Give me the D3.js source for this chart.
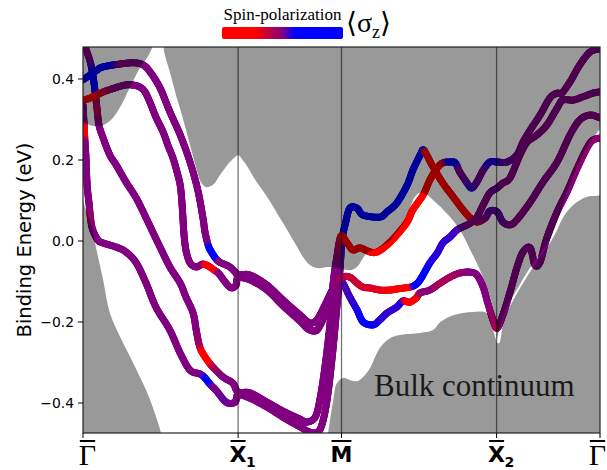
<!DOCTYPE html>
<html>
<head>
<meta charset="utf-8">
<script src="https://cdn.jsdelivr.net/npm/d3@7"></script>
<style>
  body { margin: 0; background: #fff; }
  svg { display: block; }
</style>
</head>
<body>
<svg id="chart" width="607" height="470"></svg>
<script>
// k path: Γ - X1 - M - X2 - Γ, energies in eV, spin <σz> in [-1, 1]
const xTicks = [0, 0.3, 0.5, 0.8, 1.0];
const xTickMain = ['Γ', 'X', 'M', 'X', 'Γ'];
const xTickSub = ['', '1', '', '2', ''];
const yTicks = [-0.4, -0.2, 0.0, 0.2, 0.4];

// [k, E, spin]
const bandA = [
  [0, 0.336, 0], [0.002, 0.29, 0], [0.003, 0.265, -0.8], [0.004, 0.24, 0], [0.006, 0.2, 0], [0.008, 0.138, 0],
  [0.012, 0.089, 0], [0.015, 0.052, -0.1], [0.019, 0.027, 0], [0.029, 0.002, 0], [0.039, -0.005, 0],
  [0.064, -0.015, 0], [0.083, -0.027, 0], [0.103, -0.054, 0], [0.122, -0.104, 0], [0.141, -0.163, 0],
  [0.168, -0.22, 0], [0.188, -0.277, 0], [0.207, -0.319, 0], [0.226, -0.328, 0], [0.236, -0.338, 0.1],
  [0.242, -0.348, 0.9], [0.249, -0.358, 0.1], [0.257, -0.368, 0], [0.277, -0.398, 0.05], [0.294, -0.398, 0],
  [0.3, -0.38, 0],
  [0.323, -0.388, 0], [0.356, -0.41, 0], [0.387, -0.435, 0], [0.42, -0.459, 0], [0.439, -0.472, 0],
  [0.453, -0.472, 0], [0.462, -0.454, 0], [0.472, -0.393, 0], [0.482, -0.286, 0], [0.491, -0.163, 0],
  [0.497, -0.072, 0], [0.501, 0.002, 0.15], [0.507, 0.04, 0.5],
  [0.516, 0.081, 0.9], [0.53, 0.081, 0.9], [0.542, 0.064, 0.9], [0.574, 0.059, 0.9], [0.588, 0.072, 0.9],
  [0.607, 0.094, 0.9], [0.627, 0.138, 0.9], [0.638, 0.175, 0.9], [0.652, 0.212, 0.9], [0.658, 0.225, 0.6],
  [0.665, 0.212, -0.9], [0.677, 0.183, -0.9], [0.696, 0.143, -0.9], [0.716, 0.109, -0.9], [0.735, 0.077, -0.9],
  [0.749, 0.057, -0.7], [0.762, 0.047, -0.3], [0.778, 0.057, 0], [0.787, 0.074, 0.05], [0.801, 0.072, 0.05],
  [0.812, 0.047, 0.05], [0.826, 0.04, 0], [0.839, 0.052, 0], [0.865, 0.096, 0], [0.89, 0.146, 0],
  [0.917, 0.195, 0], [0.942, 0.262, 0], [0.961, 0.299, 0], [0.981, 0.311, 0], [1.0, 0.304, 0]
];

const bandB = [
  [-0.002, 0.496, 0], [0.006, 0.472, 0], [0.014, 0.442, 0], [0.019, 0.41, 0.2], [0.023, 0.373, 0.3],
  [0.027, 0.328, -0.2], [0.031, 0.286, 0], [0.039, 0.254, 0], [0.052, 0.212, 0], [0.064, 0.188, 0],
  [0.083, 0.146, 0], [0.103, 0.106, 0], [0.122, 0.057, 0], [0.135, 0.022, 0], [0.149, -0.015, 0],
  [0.168, -0.064, 0], [0.188, -0.104, 0], [0.199, -0.138, 0], [0.213, -0.178, 0], [0.219, -0.22, 0],
  [0.226, -0.262, -0.1], [0.236, -0.286, -0.9], [0.245, -0.302, -0.9], [0.251, -0.311, -0.2], [0.271, -0.336, 0],
  [0.29, -0.351, 0], [0.3, -0.373, 0],
  [0.323, -0.375, 0], [0.356, -0.398, 0], [0.387, -0.42, 0], [0.42, -0.44, 0], [0.433, -0.447, 0],
  [0.449, -0.435, 0], [0.458, -0.393, 0], [0.468, -0.311, 0], [0.478, -0.202, 0], [0.484, -0.104, 0],
  [0.491, -0.04, 0], [0.499, 0.012, -0.3],
  [0.511, -0.005, -0.7], [0.522, -0.022, -0.7], [0.536, -0.017, -0.7], [0.555, -0.027, -0.7], [0.569, -0.027, -0.7],
  [0.588, -0.01, -0.6], [0.607, 0.015, -0.5], [0.627, 0.047, -0.5], [0.638, 0.077, -0.5], [0.658, 0.114, -0.8],
  [0.671, 0.151, -0.9], [0.685, 0.18, -0.9], [0.696, 0.193, -0.4], [0.71, 0.195, 0.3], [0.72, 0.193, 0.3],
  [0.729, 0.17, 0], [0.743, 0.143, 0.05], [0.752, 0.131, 0.15], [0.762, 0.146, 0.05], [0.774, 0.175, 0],
  [0.787, 0.195, 0.15], [0.801, 0.195, 0.15],
  [0.82, 0.195, 0.05], [0.839, 0.212, 0.02], [0.851, 0.244, 0], [0.865, 0.274, 0], [0.884, 0.311, 0],
  [0.903, 0.353, 0], [0.917, 0.365, 0], [0.926, 0.365, 0], [0.942, 0.393, 0], [0.961, 0.435, 0],
  [0.981, 0.467, 0], [1.0, 0.474, 0]
];

const bandC = [
  [0, 0.348, -0.5], [0.014, 0.353, -0.6], [0.039, 0.368, -0.3], [0.062, 0.378, 0], [0.081, 0.385, 0],
  [0.097, 0.385, 0], [0.11, 0.38, 0], [0.12, 0.368, 0], [0.13, 0.341, 0], [0.141, 0.306, 0],
  [0.155, 0.269, 0], [0.164, 0.237, 0], [0.174, 0.205, 0], [0.182, 0.17, 0], [0.188, 0.138, 0],
  [0.191, 0.101, 0], [0.193, 0.064, 0], [0.195, 0.022, 0], [0.199, -0.022, 0], [0.207, -0.054, 0],
  [0.219, -0.064, 0], [0.232, -0.057, 0], [0.244, -0.063, -0.9], [0.255, -0.073, -0.9], [0.263, -0.081, 0],
  [0.284, -0.114, 0], [0.296, -0.109, 0], [0.3, -0.091, 0],
  [0.323, -0.096, 0], [0.356, -0.121, 0], [0.387, -0.16, 0], [0.42, -0.198, 0], [0.435, -0.217, 0],
  [0.449, -0.222, 0], [0.458, -0.21, 0], [0.472, -0.17, 0], [0.484, -0.131, 0], [0.493, -0.109, 0],
  [0.501, -0.101, 0.05],
  [0.516, -0.138, 0.1], [0.53, -0.17, 0.15], [0.542, -0.2, 0.2], [0.561, -0.207, 0.2], [0.574, -0.195, 0.15],
  [0.588, -0.178, 0.12], [0.607, -0.163, 0.12], [0.619, -0.148, 0.15], [0.632, -0.151, -0.8], [0.645, -0.14, -0.8],
  [0.652, -0.128, -0.1], [0.671, -0.121, 0], [0.691, -0.104, -0.15], [0.71, -0.089, -0.15], [0.729, -0.079, -0.1],
  [0.749, -0.077, 0], [0.762, -0.084, 0], [0.774, -0.114, 0], [0.783, -0.153, 0], [0.793, -0.195, -0.1],
  [0.801, -0.215, -0.15],
  [0.812, -0.183, 0], [0.826, -0.126, 0], [0.839, -0.067, 0], [0.851, -0.027, 0], [0.865, -0.017, 0],
  [0.874, -0.059, 0], [0.884, -0.052, 0], [0.897, 0.007, 0], [0.917, 0.072, 0], [0.936, 0.121, 0],
  [0.956, 0.18, -0.05], [0.975, 0.23, -0.05], [0.986, 0.249, -0.05], [1.0, 0.254, -0.05]
];

const bandD = [
  [0, 0.398, 0.3], [0.014, 0.41, 0.8], [0.027, 0.422, 0.9], [0.039, 0.43, 0.5], [0.072, 0.437, 0],
  [0.097, 0.44, 0], [0.116, 0.435, 0], [0.13, 0.417, 0], [0.149, 0.378, 0], [0.168, 0.319, 0],
  [0.188, 0.262, 0], [0.207, 0.195, 0], [0.222, 0.126, 0], [0.232, 0.057, 0], [0.236, 0.022, 0],
  [0.242, -0.01, 0], [0.247, -0.024, 0.9], [0.256, -0.042, 0.9], [0.262, -0.05, 0], [0.267, -0.054, 0],
  [0.284, -0.064, 0], [0.296, -0.079, 0], [0.3, -0.084, 0],
  [0.323, -0.084, 0], [0.356, -0.109, 0], [0.387, -0.146, 0], [0.42, -0.183, 0], [0.435, -0.2, 0],
  [0.445, -0.202, 0], [0.455, -0.19, 0], [0.468, -0.158, 0], [0.482, -0.121, 0], [0.491, -0.101, -0.05],
  [0.501, -0.089, -0.1],
  [0.516, -0.089, -0.25], [0.53, -0.104, -0.25], [0.542, -0.114, -0.3], [0.555, -0.116, -0.3], [0.574, -0.121, -0.35],
  [0.594, -0.121, -0.4], [0.61, -0.118, -0.9], [0.632, -0.114, -0.9], [0.642, -0.109, 0.4], [0.652, -0.096, 0.4],
  [0.671, -0.054, 0.15], [0.685, -0.03, 0.15], [0.696, -0.005, 0.12], [0.71, 0.01, 0.12], [0.723, 0.027, 0.1],
  [0.735, 0.035, 0.05], [0.749, 0.044, 0], [0.762, 0.059, 0], [0.774, 0.089, 0], [0.787, 0.119, 0],
  [0.801, 0.131, 0.05],
  [0.812, 0.143, 0], [0.826, 0.156, 0], [0.845, 0.212, 0], [0.859, 0.244, 0], [0.878, 0.262, 0],
  [0.897, 0.286, 0], [0.917, 0.328, 0], [0.928, 0.348, 0], [0.948, 0.348, 0], [0.967, 0.356, 0],
  [0.986, 0.365, 0], [1.0, 0.368, 0]
];

// projected bulk gap (white), upper and lower edge, [k, E]
const gapTop = [
  [0, 0.294], [0.014, 0.286], [0.033, 0.284], [0.052, 0.296], [0.072, 0.331], [0.091, 0.38],
  [0.11, 0.427], [0.126, 0.457], [0.135, 0.481], [0.143, 0.509], [0.153, 0.509], [0.157, 0.467],
  [0.168, 0.417], [0.18, 0.36], [0.193, 0.304], [0.207, 0.237], [0.219, 0.18], [0.228, 0.146],
  [0.238, 0.133], [0.251, 0.138], [0.265, 0.163], [0.284, 0.195], [0.294, 0.207], [0.3, 0.212],
  [0.313, 0.193], [0.333, 0.151], [0.356, 0.109], [0.375, 0.069], [0.395, 0.027], [0.412, -0.01],
  [0.426, -0.04], [0.439, -0.059], [0.455, -0.067], [0.472, -0.064], [0.497, -0.067], [0.516, -0.072],
  [0.53, -0.064], [0.549, -0.03], [0.574, -0.015], [0.594, 0.002], [0.609, 0.027], [0.619, 0.044],
  [0.632, 0.081], [0.642, 0.109], [0.652, 0.119], [0.665, 0.114], [0.677, 0.101], [0.694, 0.081],
  [0.71, 0.059], [0.729, 0.027], [0.749, -0.022], [0.768, -0.072], [0.783, -0.121], [0.793, -0.165],
  [0.799, -0.215], [0.801, -0.252]
];
const gapBottom = [
  [0, 0.101], [0.006, 0.077], [0.014, 0.047], [0.019, 0.027], [0.025, -0.015], [0.039, -0.096],
  [0.052, -0.178], [0.072, -0.237], [0.097, -0.301], [0.122, -0.368], [0.139, -0.425], [0.151, -0.474],
  [0.159, -0.516], [0.458, -0.541], [0.47, -0.504], [0.474, -0.474], [0.484, -0.393], [0.491, -0.351],
  [0.503, -0.338], [0.516, -0.343], [0.53, -0.346], [0.54, -0.338], [0.555, -0.314], [0.574, -0.264],
  [0.594, -0.24], [0.613, -0.232], [0.652, -0.227], [0.677, -0.22], [0.691, -0.2], [0.716, -0.183],
  [0.754, -0.175], [0.781, -0.178], [0.791, -0.212], [0.801, -0.252]
];
// thin gap right of X2 widening towards Γ
const gapRight = [
  [0.801, -0.252], [0.81, -0.2], [0.822, -0.158], [0.839, -0.121], [0.859, -0.077], [0.884, -0.032],
  [0.903, 0.002], [0.909, 0.02], [0.923, 0.069], [0.936, 0.121], [0.956, 0.183], [0.975, 0.232],
  [0.986, 0.254], [1.01, 0.286], [1.01, 0.119], [0.975, 0.109], [0.948, 0.089], [0.928, 0.057],
  [0.917, 0.027], [0.903, -0.005], [0.88, -0.047], [0.855, -0.096], [0.832, -0.146], [0.814, -0.195],
  [0.805, -0.252]
];

const spinDomain = [-1, -0.45, 0, 0.2, 1];
const spinColors = ['#ff0000', '#ff0000', '#800080', '#0000ff', '#0000ff'];

const svg = d3.select('#chart');
const plotL = 83, plotR = 600, plotT = 47, plotB = 433;

const x = d3.scaleLinear().domain([0, 1]).range([plotL, plotR]);
const y = d3.scaleLinear().domain([-0.474, 0.479]).range([plotB, plotT]);
const color = d3.scaleLinear().domain(spinDomain).range(spinColors).clamp(true);

const defs = svg.append('defs');
defs.append('clipPath').attr('id', 'plotClip')
  .append('rect').attr('x', plotL).attr('y', plotT).attr('width', plotR - plotL).attr('height', plotB - plotT);

const plot = svg.append('g').attr('clip-path', 'url(#plotClip)');

// smooth the band through its points (Catmull-Rom), spin interpolated linearly
const sampleBand = (band) => {
  const P = band.map((d) => [x(d[0]), y(d[1]), d[2]]);
  const out = [];
  for (let i = 0; i < P.length - 1; i++) {
    const p0 = P[Math.max(i - 1, 0)], p1 = P[i], p2 = P[i + 1], p3 = P[Math.min(i + 2, P.length - 1)];
    const n = Math.max(2, Math.ceil(Math.hypot(p2[0] - p1[0], p2[1] - p1[1]) / 1.5));
    for (let j = 0; j < n; j++) {
      const t = j / n, t2 = t * t, t3 = t2 * t;
      const cr = (a, b, c, d) => 0.5 * (2 * b + (-a + c) * t + (2 * a - 5 * b + 4 * c - d) * t2 + (-a + 3 * b - 3 * c + d) * t3);
      out.push([cr(p0[0], p1[0], p2[0], p3[0]), cr(p0[1], p1[1], p2[1], p3[1]), p1[2] + (p2[2] - p1[2]) * t]);
    }
  }
  out.push(P[P.length - 1]);
  return out;
};

[bandA, bandB, bandC, bandD].forEach((band) => {
  plot.append('g')
    .selectAll('line')
    .data(d3.pairs(sampleBand(band)))
    .join('line')
    .attr('x1', (d) => d[0][0]).attr('y1', (d) => d[0][1])
    .attr('x2', (d) => d[1][0]).attr('y2', (d) => d[1][1])
    .attr('stroke', (d) => color((d[0][2] + d[1][2]) / 2))
    .attr('stroke-width', 7)
    .attr('stroke-linecap', 'round');
});

// bulk continuum: translucent dark layer with the gaps cut out
const closed = d3.line().x((d) => x(d[0])).y((d) => y(d[1])).curve(d3.curveCatmullRomClosed.alpha(0.5));
const gapPoly = gapTop.concat(gapBottom.slice().reverse());
plot.append('path')
  .attr('d', `M${plotL - 10},${plotT - 10}H${plotR + 10}V${plotB + 10}H${plotL - 10}Z` + closed(gapPoly) + closed(gapRight))
  .attr('fill', '#000')
  .attr('fill-opacity', 0.4)
  .attr('fill-rule', 'evenodd');

plot.append('text')
  .attr('x', 374).attr('y', 396)
  .style('font-family', '"Liberation Serif", "DejaVu Serif", serif')
  .style('font-size', '31px')
  .attr('fill', '#1a1a1a')
  .text('Bulk continuum');

// high-symmetry lines
svg.append('g')
  .selectAll('line')
  .data(xTicks.slice(1, -1))
  .join('line')
  .attr('x1', (d) => x(d)).attr('x2', (d) => x(d))
  .attr('y1', plotT).attr('y2', plotB)
  .attr('stroke', '#000').attr('stroke-opacity', 0.55).attr('stroke-width', 1.3);

svg.append('rect')
  .attr('x', plotL).attr('y', plotT).attr('width', plotR - plotL).attr('height', plotB - plotT)
  .attr('fill', 'none').attr('stroke', '#222').attr('stroke-width', 1.2);

// y axis
const yAxis = svg.append('g');
yAxis.selectAll('line')
  .data(yTicks)
  .join('line')
  .attr('x1', plotL - 5).attr('x2', plotL)
  .attr('y1', (d) => y(d)).attr('y2', (d) => y(d))
  .attr('stroke', '#000').attr('stroke-width', 1);
yAxis.selectAll('text')
  .data(yTicks)
  .join('text')
  .attr('x', plotL - 9).attr('y', (d) => y(d))
  .attr('text-anchor', 'end').attr('dominant-baseline', 'central')
  .style('font-family', '"DejaVu Sans", sans-serif').style('font-size', '13.9px')
  .text((d) => d3.format('.1f')(d).replace('-', '\u2212'));

svg.append('text')
  .attr('transform', `translate(${24},${(plotT + plotB) / 2}) rotate(-90)`)
  .attr('text-anchor', 'middle').attr('dominant-baseline', 'central')
  .style('font-family', '"DejaVu Sans", sans-serif').style('font-size', '19.5px')
  .text('Binding Energy (eV)');

// x axis: high-symmetry labels with overbars
const xAxis = svg.append('g');
xAxis.selectAll('line')
  .data(xTicks)
  .join('line')
  .attr('x1', (d) => x(d)).attr('x2', (d) => x(d))
  .attr('y1', plotB).attr('y2', plotB + 5)
  .attr('stroke', '#000').attr('stroke-width', 1);

xTicks.forEach((k, i) => {
  const isGamma = xTickMain[i] === 'Γ';
  const shift = i === 0 ? 4.5 : (i === xTicks.length - 1 ? -2.5 : 0);
  const main = xAxis.append('text')
    .attr('x', x(k) + shift).attr('y', isGamma ? 465 : 462)
    .attr('text-anchor', 'middle')
    .style('font-family', isGamma ? '"Liberation Serif", serif' : '"DejaVu Sans", sans-serif')
    .style('font-weight', isGamma ? 'normal' : 'bold')
    .style('font-size', isGamma ? '30px' : '22px')
    .text(xTickMain[i]);
  const bb = main.node().getBBox();
  xAxis.append('line')
    .attr('x1', bb.x + 1).attr('x2', bb.x + bb.width - 1)
    .attr('y1', 441).attr('y2', 441)
    .attr('stroke', '#000').attr('stroke-width', 2);
  if (xTickSub[i]) {
    xAxis.append('text')
      .attr('x', bb.x + bb.width - 0.5).attr('y', 467)
      .style('font-family', '"DejaVu Sans", sans-serif').style('font-weight', 'bold')
      .style('font-size', '14px')
      .text(xTickSub[i]);
  }
});

// spin colour bar
const grad = defs.append('linearGradient').attr('id', 'spinGrad');
grad.selectAll('stop')
  .data(spinDomain)
  .join('stop')
  .attr('offset', (d) => (d + 1) / 2)
  .attr('stop-color', (d) => color(d));

svg.append('rect')
  .attr('x', 222).attr('y', 27).attr('width', 121).attr('height', 12).attr('rx', 2)
  .attr('fill', 'url(#spinGrad)');
svg.append('text')
  .attr('x', 282.5).attr('y', 20).attr('text-anchor', 'middle')
  .style('font-family', '"Liberation Serif", serif').style('font-size', '17px')
  .text('Spin-polarization');
const sig = svg.append('text')
  .attr('x', 346).attr('y', 32)
  .style('font-family', '"Liberation Serif", "DejaVu Serif", serif').style('font-size', '28px');
sig.append('tspan').text('⟨σ');
sig.append('tspan').attr('dy', 6).style('font-size', '18px').text('z');
sig.append('tspan').attr('dy', -6).text('⟩');
</script>
</body>
</html>
